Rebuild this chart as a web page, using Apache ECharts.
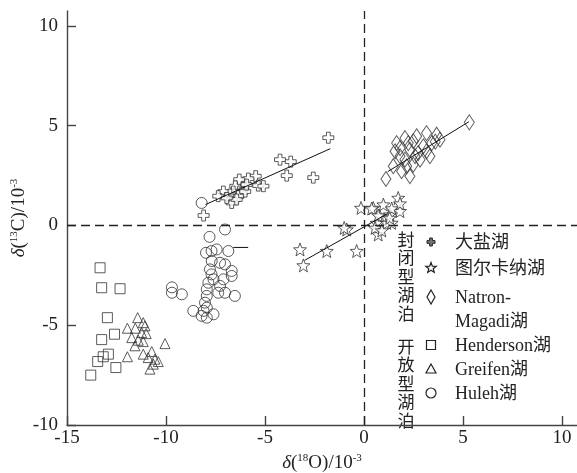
<!DOCTYPE html>
<html>
<head>
<meta charset="utf-8">
<script src="https://cdn.jsdelivr.net/npm/echarts@6/dist/echarts.min.js"></script>
<style>
  html, body { margin: 0; padding: 0; background: #fff; }
  #main { width: 577px; height: 473px; }
</style>
</head>
<body>
<div id="main"></div>
<script>
// 大盐湖
var daYanHu = [[-1.8,4.4],[-4.24,3.3],[-3.7,3.2],[-3.9,2.5],[-2.56,2.4],[-8.1,0.5],[-5.47,2.47],[-5.84,2.35],
  [-6.3,2.3],[-5.34,2.0],[-5.08,1.97],[-6.5,1.97],[-6.1,1.88],[-6.6,1.7],[-7.1,1.7],[-6.77,1.55],[-6.18,1.63],
  [-7.36,1.47],[-6.35,1.47],[-6.68,1.3],[-6.68,1.13],[-6.43,1.3],[-6.0,1.7],[-6.93,1.38],[-5.93,2.05]]
// 图尔卡纳湖
var tuErKaNa = [[-0.15,0.88],[-0.87,-0.2],[-1.0,-0.12],[-3.23,-1.2],[-1.88,-1.28],[-0.37,-1.28],[-3.06,-2.0],
  [0.47,0.88],[0.98,1.05],[1.73,1.38],[1.82,0.72],[1.31,0.55],[0.8,0.47],[0.64,0.13],[1.15,0.13],[1.4,0.13],
  [0.72,-0.45],[0.56,-0.12],[1.82,1.1],[0.39,0.85],[1.4,0.85],[0.72,0.5],[1.3,0.38],[0.9,-0.25]]
// Natron-Magadi湖
var natron = [[5.32,5.17],[1.11,2.33],[1.65,4.13],[1.57,3.72],[1.82,3.47],[2.07,4.38],[2.49,4.22],[2.66,4.47],
  [3.16,4.63],[3.67,4.55],[3.84,4.3],[3.42,4.13],[3.0,3.97],[2.74,3.63],[2.32,3.8],[2.07,3.3],[1.9,2.72],
  [2.32,2.47],[1.48,2.97],[2.49,3.05],[2.83,3.3],[3.16,3.72],[3.33,3.47],[2.58,3.47],[2.16,2.97],[1.82,3.88],
  [2.24,4.13],[3.6,4.2]]
// Henderson湖
var henderson = [[-13.33,-2.12],[-13.25,-3.12],[-12.32,-3.17],[-12.96,-4.62],[-12.6,-5.45],[-13.25,-5.72],
  [-12.91,-6.45],[-13.17,-6.58],[-13.45,-6.82],[-12.53,-7.12],[-13.8,-7.5]]
// Greifen湖
var greifen = [[-11.43,-4.62],[-11.15,-4.87],[-11.06,-5.03],[-11.95,-5.15],[-11.55,-5.15],[-11.23,-5.37],
  [-11.0,-5.42],[-11.73,-5.62],[-11.4,-5.75],[-11.15,-5.82],[-11.57,-6.03],[-10.05,-5.92],[-11.95,-6.58],
  [-11.15,-6.45],[-10.72,-6.32],[-10.9,-6.62],[-10.56,-6.7],[-10.39,-6.82],[-10.64,-6.95],[-10.81,-7.2]]
// Huleh湖
var huleh = [[-8.2,1.13],[-7.02,-0.2],[-7.8,-0.57],[-6.85,-1.28],[-7.44,-1.2],[-7.98,-1.37],[-7.7,-1.28],
  [-7.69,-1.78],[-7.27,-1.87],[-7.02,-1.95],[-6.68,-2.28],[-6.68,-2.53],[-7.78,-2.2],[-7.7,-2.45],[-7.1,-2.7],
  [-7.6,-2.7],[-7.86,-2.87],[-7.94,-3.2],[-7.27,-3.03],[-7.36,-3.37],[-7.02,-3.37],[-6.52,-3.53],[-7.94,-3.53],
  [-8.03,-3.87],[-7.94,-4.12],[-8.62,-4.28],[-8.1,-4.28],[-7.6,-4.45],[-8.2,-4.53],[-7.94,-4.62],
  [-9.7,-3.1],[-9.7,-3.37],[-9.2,-3.45]]

// 拟合线
var fitDaYan = [[-8.0,1.05],[-1.7,3.85]]
var fitTurkana = [[-3.0,-1.75],[1.2,0.6]]
var fitNatron = [[1.2,2.7],[5.3,5.2]]
var fitHuleh = [[-6.6,-1.1],[-5.85,-1.1]]

var xTicks = [-15, -10, -5, 0, 5, 10]
var yTicks = [-10, -5, 0, 5, 10]

var serif = '"Liberation Serif", "Times New Roman", "Noto Sans CJK SC", serif'
var ink = '#222'

// 星形、十字形的顶点（单位方框 0..10）
function starPoints () {
  var pts = []
  for (var i = 0; i < 10; i++) {
    var r = i % 2 === 0 ? 5 : 2.1
    var a = Math.PI / 5 * i - Math.PI / 2
    pts.push([5 + r * Math.cos(a), 5 + r * Math.sin(a)])
  }
  return pts
}
var STAR_PTS = starPoints()
var CROSS_PTS = [[3.3,0],[6.7,0],[6.7,3.3],[10,3.3],[10,6.7],[6.7,6.7],[6.7,10],[3.3,10],[3.3,6.7],[0,6.7],[0,3.3],[3.3,3.3]]
function toPath (pts) {
  return 'path://M' + pts.map(function (p) { return p[0].toFixed(2) + ',' + p[1].toFixed(2) }).join('L') + 'Z'
}
function place (pts, cx, cy, size) {
  return pts.map(function (p) { return [cx + (p[0] - 5) * size / 10, cy + (p[1] - 5) * size / 10] })
}

var hollow = { color: 'rgba(0,0,0,0)', borderColor: '#333', borderWidth: 1 }
var filled = { color: '#fff', borderColor: '#333', borderWidth: 1 }

function scatter (name, data, symbol, size, style) {
  return { name: name, type: 'scatter', data: data, symbol: symbol, symbolSize: size, itemStyle: style, z: 3 }
}
function fitLine (data) {
  return {
    type: 'line', data: data, showSymbol: false, symbol: 'none', silent: true, z: 4,
    lineStyle: { color: '#111', width: 1 }
  }
}

// 图例
var legendRows = [
  { kind: 'cross', y: 242, text: '大盐湖' },
  { kind: 'star', y: 268, text: '图尔卡纳湖' },
  { kind: 'diamond', y: 297, text: 'Natron-\nMagadi湖' },
  { kind: 'rect', y: 345, text: 'Henderson湖' },
  { kind: 'triangle', y: 369, text: 'Greifen湖' },
  { kind: 'circle', y: 393, text: 'Huleh湖' }
]
var graphics = []
var sx = 431
legendRows.forEach(function (r) {
  var st = { fill: '#fff', stroke: '#222', lineWidth: 1.2 }
  if (r.kind === 'cross') {
    graphics.push({ type: 'polygon', shape: { points: place(CROSS_PTS, sx, r.y, 8) }, style: { fill: '#777', stroke: '#222', lineWidth: 1 } })
  } else if (r.kind === 'star') {
    graphics.push({ type: 'polygon', shape: { points: place(STAR_PTS, sx, r.y, 11) }, style: st })
  } else if (r.kind === 'diamond') {
    graphics.push({ type: 'polygon', shape: { points: [[sx, r.y - 7], [sx + 4, r.y], [sx, r.y + 7], [sx - 4, r.y]] }, style: st })
  } else if (r.kind === 'rect') {
    graphics.push({ type: 'rect', shape: { x: sx - 4.5, y: r.y - 4.5, width: 9, height: 9 }, style: st })
  } else if (r.kind === 'triangle') {
    graphics.push({ type: 'polygon', shape: { points: [[sx, r.y - 5], [sx + 5, r.y + 4], [sx - 5, r.y + 4]] }, style: st })
  } else {
    graphics.push({ type: 'circle', shape: { cx: sx, cy: r.y, r: 5 }, style: st })
  }
  graphics.push({
    type: 'text', x: 455, y: r.y - 11,
    style: { text: r.text, font: '18px ' + serif, fill: ink, lineHeight: 24, verticalAlign: 'top' }
  })
})
graphics.push({
  type: 'text', x: 406, y: 230,
  style: { text: '封\n闭\n型\n湖\n泊', font: '17px "Noto Sans CJK SC"', fill: ink, lineHeight: 18.5, align: 'center', verticalAlign: 'top' }
})
graphics.push({
  type: 'text', x: 406, y: 337,
  style: { text: '开\n放\n型\n湖\n泊', font: '17px "Noto Sans CJK SC"', fill: ink, lineHeight: 18.5, align: 'center', verticalAlign: 'top' }
})

var nameRich = {
  i: { fontStyle: 'italic', fontSize: 19, fontFamily: serif, color: ink },
  s: { fontSize: 11, fontFamily: serif, color: ink, padding: [0, 0, 9, 0] }
}
var axisCommon = {
  axisLine: { onZero: false, lineStyle: { color: '#444', width: 1.4 } },
  splitLine: { show: false },
  nameLocation: 'middle',
  nameMoveOverlap: false,
  nameTextStyle: { fontFamily: serif, fontSize: 19, color: ink, rich: nameRich }
}
var tickStyle = { color: '#444', width: 1.4 }

var option = {
  animation: false,
  backgroundColor: '#fff',
  grid: { left: 67, right: 0, top: 11, bottom: 48, outerBoundsMode: 'none', containLabel: false },
  xAxis: Object.assign({}, axisCommon, {
    type: 'value', min: -15, max: 10.76, interval: 5,
    name: '{i|δ}({s|18}O)/10{s|-3}', nameGap: 28,
    axisTick: { inside: true, length: 9, lineStyle: tickStyle, customValues: xTicks },
    axisLabel: {
      customValues: xTicks, margin: 4, fontFamily: serif, fontSize: 19, color: ink,
      formatter: function (v) { return v % 5 === 0 ? String(v) : '' }
    }
  }),
  yAxis: Object.assign({}, axisCommon, {
    type: 'value', min: -10, max: 10.75, interval: 5,
    name: '{i|δ}({s|13}C)/10{s|-3}', nameGap: 38,
    axisTick: { inside: true, length: 9, lineStyle: tickStyle, customValues: yTicks },
    axisLabel: {
      customValues: yTicks, margin: 9, fontFamily: serif, fontSize: 19, color: ink,
      formatter: function (v) { return v % 5 === 0 ? String(v) : '' }
    }
  }),
  series: [
    scatter('Huleh湖', huleh, 'circle', 11, hollow),
    scatter('Henderson湖', henderson, 'rect', 10, hollow),
    scatter('Greifen湖', greifen, 'triangle', 10, hollow),
    scatter('Natron-Magadi湖', natron, 'diamond', [10, 15], hollow),
    scatter('大盐湖', daYanHu, toPath(CROSS_PTS), 11, filled),
    scatter('图尔卡纳湖', tuErKaNa, toPath(STAR_PTS), 13, filled),
    fitLine(fitDaYan),
    fitLine(fitTurkana),
    fitLine(fitNatron),
    Object.assign(fitLine(fitHuleh), {
      markLine: {
        silent: true, symbol: 'none', label: { show: false },
        lineStyle: { color: '#222', type: [9, 5], width: 1.3 },
        data: [{ xAxis: 0 }, { yAxis: 0 }]
      }
    })
  ],
  graphic: graphics
}

var myChart = echarts.init(document.getElementById('main'))
myChart.setOption(option)
</script>
</body>
</html>
